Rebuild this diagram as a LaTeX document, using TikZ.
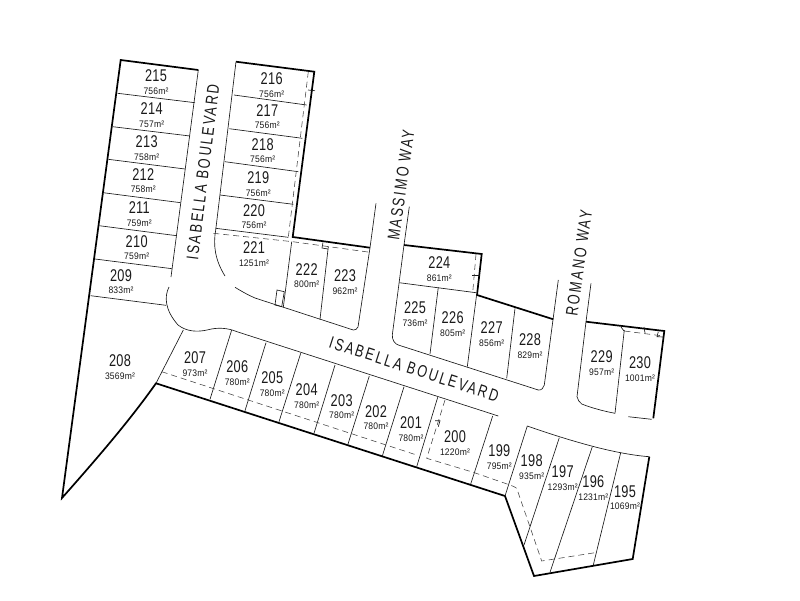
\documentclass[tikz,border=0pt]{standalone}
\usepackage{fontspec}
\newfontfamily\lotfont[FakeStretch=0.75,LetterSpace=2]{Liberation Sans}
\newfontfamily\areafont[FakeStretch=0.9,LetterSpace=2]{Liberation Sans}
\newfontfamily\roadfont[FakeStretch=0.75,LetterSpace=13]{Liberation Sans}
\tikzset{
  thin line/.style={line width=0.65pt, color=black!90},
  thick line/.style={line width=1.7pt, color=black, line join=miter},
  dash line/.style={line width=0.55pt, color=black!75, dash pattern=on 6pt off 4pt},
  lot label/.style={inner sep=0pt, align=center, text=black!90, font=\lotfont\fontsize{17}{12.5}\selectfont},
  road label/.style={inner sep=0pt, text=black!90, font=\roadfont\fontsize{17}{17}\selectfont}
}
\begin{document}
\begin{tikzpicture}[x=1pt, y=-1pt]
    \useasboundingbox (0,0) rectangle (800,600);

    \foreach \xa/\ya/\num/\sqm in {
      156/82.3/215/756, 151.7/115/214/757, 146.7/148.3/213/758, 143.3/180.7/212/758,
      139.3/214/211/759, 136.7/247.7/210/759, 121/281.7/209/833, 120/367/208/3569,
      271.7/85/216/756, 267.3/116.7/217/756, 262.7/150.7/218/756, 258.3/184/219/756,
      254/216.7/220/756, 254/254/221/1251, 306.7/275.7/222/800, 345/282.3/223/962,
      439.3/269/224/861, 415/314/225/736, 452.7/324/226/805, 491.7/334.3/227/856,
      530/346/228/829, 601.7/363.3/229/957, 640/369.3/230/1001,
      195/364/207/973, 237.3/373.3/206/780, 272.3/384.3/205/780, 306.7/396/204/780,
      341.7/406.7/203/780, 376/417.7/202/780, 411/429.3/201/780, 455/443.3/200/1220,
      499.3/457.3/199/795, 531.7/467.3/198/935, 562.7/478.3/197/1293,
      593.3/488.3/196/1231, 625/497.7/195/1069}
      \node[lot label] (lot\num) at (\xa,\ya) {\num\\{\areafont\fontsize{9.5}{9.5}\selectfont\sqm m²}};

    \node[road label, rotate=83] (isabellaNorth) at (203,172) {ISABELLA BOULEVARD};
    \node[road label, rotate=-18] (isabellaEast) at (414,369) {ISABELLA BOULEVARD};
    \node[road label, rotate=82] (massimo) at (401,185) {MASSIMO WAY};
    \node[road label, rotate=82] (romano) at (579,263) {ROMANO WAY};

    \draw[thick line] (198.3,70) -- (120.7,60) -- (62,498)
      .. controls (100,455) and (130,420) .. (156,383.3)
      -- (505,496) -- (534,576) -- (632.7,559) -- (649.3,456.7);
    \draw[thick line] (236,61.7) -- (314.3,71.7) -- (292.7,237) -- (370,247.7);
    \draw[thick line] (404,245) -- (481.7,254) -- (477,295) -- (553.3,319.3);
    \draw[thick line] (586,321.7) -- (664.3,331) -- (653.3,418.3);

    \draw[thin line] (198.3,70) -- (171,277);
    \draw[thin line] (169,287) .. controls (164,297) and (165,310) .. (178,325)
      .. controls (187,332) and (198,332) .. (207,330)
      .. controls (218,327) and (228,328) .. (237,331.7) -- (498.3,416);
    \draw[thin line] (236,61.7) -- (215.7,230) .. controls (213,245) and (215,260) .. (225,276);
    \draw[thin line] (235,287.3) .. controls (241,291) and (248,295) .. (255,298)
      -- (353.3,330) .. controls (355,330.5) and (357,329) .. (358,327) -- (370,247.7) -- (376,203.3);
    \draw[thin line] (409.3,206.7) -- (404,245) -- (392.3,335)
      .. controls (392,340) and (395,344) .. (398.3,345) -- (538.3,390)
      .. controls (541,390.5) and (544,388) .. (544.3,385) -- (558.3,280);
    \draw[thin line] (591,283.3) -- (586,321.7) -- (577,396.7)
      .. controls (578,400) and (579,402) .. (581.7,404) .. controls (592,408) and (603,411) .. (615,413.3);
    \draw[thin line] (628.3,416.7) -- (651.7,419.3);
    \draw[thin line] (527.3,426) .. controls (550,434) and (590,447) .. (620.7,452.7)
      .. controls (630,454.5) and (640,456) .. (649.3,456.7);

    \foreach \xa/\ya/\xb/\yb in {
      117.7/93.3/195/102.7, 112.7/126.7/190/136, 108.3/159.3/185/169,
      103.3/192.7/180.7/202.7, 99.3/225.7/176.7/235.7, 95/259/172/268.7, 90.7/295.7/166/305.3,
      234/95/306.7/105, 229.3/128.7/302.3/138.3, 225/161.7/298.3/171.7,
      220/195/293.3/204.3, 215.7/228.3/288.3/237.3,
      291.7/241.7/283.3/307.3, 328.3/246.7/320/319.3,
      399.3/282.7/476/292.7, 438.3/287.3/430/354, 476.7/294/467.3/366.7, 515/308.3/506.7/378.3,
      624.3/330/615/413.3,
      183.3/330/156/383.3, 231.7/330/210/399.3, 266/342.7/245/410.7, 300.7/353.3/279/421.7,
      335/365/314/433.3, 369.3/376/347.7/445, 404/386.7/382.3/456, 437.7/397.3/416.7/466.7,
      492.7/416/470.7/484, 527.3/426/505/496, 559.3/437.7/524/545, 592.3/446.7/550/572.3,
      620.7/452.7/593.3/565,
      308/90/315/90.7, 472/275.7/480/275.7, 644/327/645/333}
      \draw[thin line] (\xa,\ya) -- (\xb,\yb);

    \draw[thin line] (277,290) -- (284.3,291.7) -- (281.7,306.7) -- (275,305) -- cycle;
    \draw[thin line] (323,242.5) -- (322,248) -- (328,249);
    \draw[thin line] (435,420.7) -- (440,420.7) -- (438.3,426.7);
    \draw[thin line] (621,327) -- (624,331) -- (624.3,331);
    \draw[thin line] (658.3,331.7) -- (657,336.7) -- (663.3,337);

    \draw[dash line] (308.3,71.7) -- (288.3,237.3);
    \draw[dash line] (213.3,233.3) -- (292.7,241.7) -- (370,252.3);
    \draw[dash line] (476,254) -- (472.7,292.7);
    \draw[dash line] (624.3,331) -- (663.3,336);
    \draw[dash line] (161.7,371.7) -- (416.7,455);
    \draw[dash line] (445,400) -- (426.7,458.3) -- (473.3,472.3) -- (510,485)
      .. controls (513,486) and (515,487) .. (516.7,488.3) -- (541.7,561) -- (595,552.7);
\end{tikzpicture}
\end{document}
